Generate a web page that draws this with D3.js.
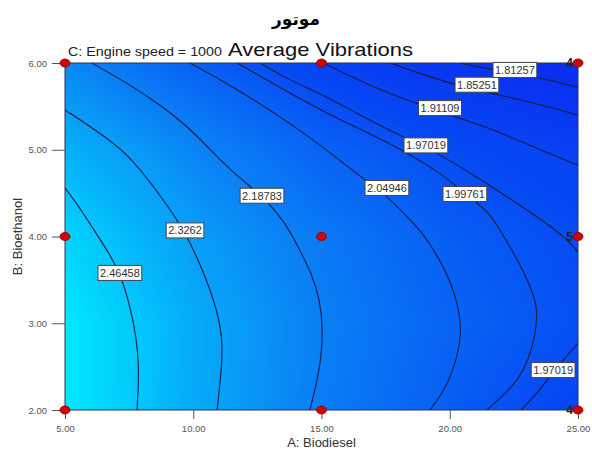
<!DOCTYPE html>
<html>
<head>
<meta charset="utf-8">
<script src="https://cdn.jsdelivr.net/npm/d3@7"></script>
<style>
  html, body { margin: 0; padding: 0; background: #fff; }
  svg { display: block; font-family: Arial, "Liberation Sans", sans-serif; }
</style>
</head>
<body>
<svg id="chart" width="592" height="450"></svg>
<script>
// ---------------- data ----------------
const titleText = "موتور";
const subTitle = "C: Engine speed = 1000";
const mainTitle = "Average Vibrations";
const xLabel = "A: Biodiesel";
const yLabel = "B: Bioethanol";

const xTicks = [5, 10, 15, 20, 25];
const yTicks = [2, 3, 4, 5, 6];

// estimated response values on the factor grid (rows: B = 2..6, cols: A = 5..25)
const gridA = [5, 10, 15, 20, 25];
const gridB = [2, 3, 4, 5, 6];
const gridRow2 = [2.600, 2.365, 2.175, 2.031, 1.930];
const gridRow3 = [2.600, 2.368, 2.188, 2.059, 1.980];
const gridRow4 = [2.520, 2.314, 2.158, 2.033, 1.965];
const gridRow5 = [2.390, 2.216, 2.055, 1.960, 1.900];
const gridRow6 = [2.226, 2.045, 1.912, 1.818, 1.745];

// contour lines, points as [A, B]
const line_246458 = [[5.00,4.56],[5.58,4.33],[6.25,4.02],[6.75,3.79],[7.14,3.58],[7.53,3.21],[7.77,2.86],[7.88,2.52],[7.85,2.23],[7.81,2.00]];
const line_23262  = [[5.00,5.46],[6.17,5.23],[7.42,4.97],[8.70,4.48],[9.68,4.07],[10.54,3.50],[11.04,3.04],[11.16,2.69],[11.04,2.29],[10.93,2.00]];
const line_218783 = [[6.05,6.00],[7.53,5.75],[8.70,5.52],[9.87,5.25],[11.04,4.88],[12.02,4.62],[12.68,4.47],[13.58,4.17],[14.16,3.84],[14.63,3.56],[14.94,3.27],[15.06,2.92],[14.98,2.58],[14.79,2.29],[14.55,2.00]];
const line_204946 = [[9.87,6.00],[11.43,5.75],[13.77,5.31],[15.33,4.97],[16.70,4.65],[17.55,4.47],[18.26,4.25],[18.96,4.04],[19.62,3.73],[20.09,3.44],[20.40,3.12],[20.44,2.81],[20.20,2.52],[19.81,2.23],[19.23,2.00]];
const line_199761 = [[11.71,6.00],[13.77,5.65],[15.72,5.34],[17.67,5.08],[19.62,4.74],[20.59,4.50],[21.57,4.27],[21.96,4.07],[22.74,3.69],[23.32,3.30],[23.44,3.10],[23.25,2.73],[22.89,2.46],[22.47,2.27],[21.45,2.00]];
const line_197019a = [[12.60,6.00],[13.77,5.80],[14.94,5.65],[16.38,5.42],[18.06,5.16],[19.04,5.04],[20.79,4.74],[22.74,4.36],[24.03,4.10],[24.69,3.93],[25.00,3.82]];
const line_197019b = [[25.00,2.77],[24.49,2.60],[24.03,2.44],[23.52,2.23],[22.78,2.00]];
const line_191109 = [[15.06,6.00],[17.01,5.72],[18.84,5.52],[20.01,5.40],[21.57,5.25],[23.13,5.05],[25.00,4.82]];
const line_185251 = [[17.67,6.00],[19.23,5.84],[20.20,5.75],[21.96,5.63],[23.52,5.52],[25.00,5.40]];
const line_181257 = [[20.40,6.00],[21.76,5.92],[23.52,5.83],[25.00,5.72]];

const contourLabels = ["2.46458","2.3262","2.18783","2.04946","1.99761","1.97019","1.97019","1.91109","1.85251","1.81257"];
const contourLines  = [line_246458, line_23262, line_218783, line_204946, line_199761, line_197019a, line_197019b, line_191109, line_185251, line_181257];
const labelA = [7.14, 9.68, 12.68, 17.55, 20.59, 19.07, 24.03, 19.62, 21.06, 22.54];
const labelB = [3.58, 4.07, 4.47, 4.56, 4.49, 5.05, 2.46, 5.48, 5.75, 5.92];

// design points and replicate counts
const designA = [5, 5, 5, 15, 15, 15, 25, 25, 25];
const designB = [2, 4, 6, 2, 4, 6, 2, 4, 6];
const repA = [25, 25, 25];
const repB = [6, 4, 2];
const repText = ["4", "5", "4"];

// colour scale stops (response value -> colour)
const colorDomain = [1.74, 1.95, 2.05, 2.19, 2.33, 2.46, 2.62];
const colorRange  = ["#0a2af0", "#0648f4", "#0862f5", "#0a80f5", "#08a2f8", "#03c4fb", "#00eeff"];

// ---------------- drawing ----------------
const svg = d3.select("#chart");
const x = d3.scaleLinear().domain([5, 25]).range([65, 578]);
const y = d3.scaleLinear().domain([2, 6]).range([410, 63]);
const color = d3.scaleLinear().domain(colorDomain).range(colorRange).clamp(true);

const gridRows = [gridRow2, gridRow3, gridRow4, gridRow5, gridRow6];

// background raster
const pw = Math.round(x(25) - x(5)), ph = Math.round(y(2) - y(6));
const canvas = document.createElement("canvas");
canvas.width = pw; canvas.height = ph;
const ctx = canvas.getContext("2d");
const img = ctx.createImageData(pw, ph);
const ia = d3.scaleLinear().domain(gridA).range(d3.range(gridA.length));
const ib = d3.scaleLinear().domain(gridB).range(d3.range(gridB.length));
for (let j = 0; j < ph; j++) {
  const bv = y.invert(y(6) + j + 0.5);
  const fb = Math.min(Math.max(ib(bv), 0), gridB.length - 1.0001);
  const b0 = Math.floor(fb), tb = fb - b0;
  for (let i = 0; i < pw; i++) {
    const av = x.invert(x(5) + i + 0.5);
    const fa = Math.min(Math.max(ia(av), 0), gridA.length - 1.0001);
    const a0 = Math.floor(fa), ta = fa - a0;
    const v = (1 - tb) * ((1 - ta) * gridRows[b0][a0] + ta * gridRows[b0][a0 + 1]) +
              tb * ((1 - ta) * gridRows[b0 + 1][a0] + ta * gridRows[b0 + 1][a0 + 1]);
    const c = d3.rgb(color(v));
    const k = (j * pw + i) * 4;
    img.data[k] = c.r; img.data[k + 1] = c.g; img.data[k + 2] = c.b; img.data[k + 3] = 255;
  }
}
ctx.putImageData(img, 0, 0);
svg.append("image")
  .attr("x", x(5)).attr("y", y(6))
  .attr("width", pw).attr("height", ph)
  .attr("preserveAspectRatio", "none")
  .attr("href", canvas.toDataURL());

// contour lines
svg.append("clipPath").attr("id", "plotclip")
  .append("rect").attr("x", x(5)).attr("y", y(6)).attr("width", pw).attr("height", ph);
const lineGen = d3.line().x(d => x(d[0])).y(d => y(d[1])).curve(d3.curveBasis);
svg.append("g").attr("clip-path", "url(#plotclip)")
  .selectAll("path").data(contourLines).join("path")
  .attr("d", lineGen)
  .attr("fill", "none")
  .attr("stroke", "#141c40")
  .attr("stroke-width", 1.1);

// plot border
svg.append("rect")
  .attr("x", x(5)).attr("y", y(6)).attr("width", pw).attr("height", ph)
  .attr("fill", "none").attr("stroke", "#2b3550").attr("stroke-width", 1);

// contour labels
const lab = svg.append("g").selectAll("g").data(contourLabels).join("g")
  .attr("transform", (d, i) => `translate(${x(labelA[i])},${y(labelB[i])})`);
lab.append("text")
  .attr("text-anchor", "middle").attr("dy", "0.36em")
  .attr("font-size", 11).attr("fill", "#333")
  .text(d => d);
lab.each(function () {
  const g = d3.select(this);
  const bb = g.select("text").node().getBBox();
  g.insert("rect", "text")
    .attr("x", bb.x - 2).attr("y", -7.5)
    .attr("width", bb.width + 4).attr("height", 15)
    .attr("fill", "#fff").attr("stroke", "#444").attr("stroke-width", 1);
});

// axes
const ax = svg.append("g").attr("transform", `translate(0,${y(2)})`)
  .call(d3.axisBottom(x).tickValues(xTicks).tickFormat(d3.format(".2f")).tickSize(9).tickPadding(6));
const ay = svg.append("g").attr("transform", `translate(${x(5)},0)`)
  .call(d3.axisLeft(y).tickValues(yTicks).tickFormat(d3.format(".2f")).tickSize(13).tickPadding(5));
[ax, ay].forEach(g => {
  g.select(".domain").remove();
  g.selectAll(".tick line").attr("stroke", "#555");
  g.selectAll(".tick text").attr("fill", "#555").attr("font-size", 9.5)
    .attr("font-family", "Arial, 'Liberation Sans', sans-serif");
});

// design points
svg.append("g").selectAll("ellipse").data(designA).join("ellipse")
  .attr("cx", d => x(d)).attr("cy", (d, i) => y(designB[i]))
  .attr("rx", 5).attr("ry", 4)
  .attr("fill", "#d40000").attr("stroke", "#7a0000").attr("stroke-width", 0.8);

// replicate counts
svg.append("g").selectAll("text").data(repText).join("text")
  .attr("x", (d, i) => x(repA[i]) - 5).attr("y", (d, i) => y(repB[i]) + 4)
  .attr("text-anchor", "end").attr("font-size", 12).attr("font-weight", "bold")
  .attr("fill", "#222").text(d => d);

// titles
svg.append("text").attr("x", 296).attr("y", 25).attr("text-anchor", "middle")
  .attr("font-size", 17).attr("font-weight", "bold").attr("fill", "#000")
  .attr("font-family", "'DejaVu Sans', 'Noto Sans', sans-serif")
  .text(titleText);
svg.append("text").attr("x", 68).attr("y", 56)
  .attr("font-size", 13).attr("fill", "#222")
  .attr("textLength", 154).attr("lengthAdjust", "spacingAndGlyphs")
  .text(subTitle);
svg.append("text").attr("x", 228).attr("y", 56)
  .attr("font-size", 19).attr("fill", "#111")
  .attr("textLength", 185).attr("lengthAdjust", "spacingAndGlyphs")
  .text(mainTitle);

// axis titles
svg.append("text").attr("x", x(15)).attr("y", 447).attr("text-anchor", "middle")
  .attr("font-size", 13).attr("fill", "#333").text(xLabel);
svg.append("text").attr("transform", `translate(22,${y(4)}) rotate(-90)`)
  .attr("text-anchor", "middle").attr("font-size", 13).attr("fill", "#333").text(yLabel);
</script>
</body>
</html>
